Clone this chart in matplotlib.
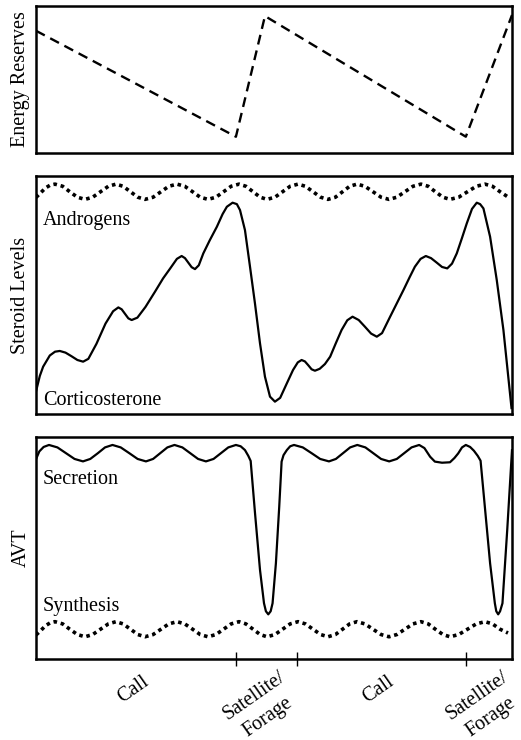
import numpy as np
import matplotlib
matplotlib.use('Agg')
import matplotlib.pyplot as plt

plt.rcParams['font.family'] = ['Liberation Serif', 'DejaVu Serif']
plt.rcParams['font.size'] = 14.5

# x runs 0..100 across the breeding cycle, y is 0..1 in every panel
# energy reserves (dashed saw-tooth)
energy_x = [0, 42.0, 48.1, 90.3, 100]
energy_y = [0.832, 0.111, 0.932, 0.111, 0.939]

# corticosterone (solid)
cort_x = [0, 0.8, 1.5, 2.9, 4.0, 5.0, 6.2, 7.45, 8.7, 9.9,
          11.0, 12.7, 14.6, 16.2, 17.3, 18.0, 18.7, 19.4, 20.1,
          21.3, 23.0, 25.0, 26.7, 28.2, 29.6, 30.6, 31.3, 32.0, 32.7, 33.4,
          34.2, 35.15, 36.5, 38.0, 39.2, 40.1, 41.3, 42.2, 42.86, 43.9, 44.96,
          46.0, 47.06, 48.1, 49.16, 50.2, 51.3, 52.7, 54.0, 55.0, 55.8,
          56.5, 57.2, 57.9, 58.6, 59.6, 60.7, 61.8, 63.0, 64.2, 65.4, 66.5,
          67.8, 69.1, 70.4, 71.6, 72.7, 74.4, 75.8, 77.2, 78.5, 79.6, 80.8, 81.9,
          83.0, 84.2, 85.3, 86.4, 87.4, 88.4, 89.5, 90.5, 91.6, 92.6,
          93.3, 94.0, 95.4, 96.8, 98.2, 99.9]
cort_y = [0.095, 0.16, 0.199, 0.246, 0.262, 0.265, 0.258, 0.243, 0.227, 0.220,
          0.232, 0.295, 0.380, 0.432, 0.448, 0.440, 0.421, 0.402, 0.395,
          0.405, 0.450, 0.514, 0.570, 0.612, 0.652, 0.664, 0.655, 0.636, 0.617, 0.609,
          0.625, 0.675, 0.730, 0.787, 0.840, 0.871, 0.888, 0.882, 0.857, 0.773, 0.619,
          0.465, 0.297, 0.157, 0.073, 0.052, 0.068, 0.129, 0.185, 0.217, 0.227,
          0.221, 0.205, 0.188, 0.182, 0.190, 0.210, 0.241, 0.298, 0.353, 0.394, 0.409,
          0.395, 0.367, 0.338, 0.325, 0.340, 0.409, 0.465, 0.521, 0.575, 0.619, 0.652, 0.664,
          0.655, 0.636, 0.618, 0.612, 0.632, 0.675, 0.740, 0.801, 0.862, 0.888,
          0.882, 0.864, 0.745, 0.563, 0.353, 0.025]

# androgens and AVT synthesis (dotted ripples share the same x positions)
wave_x = [0.0, 1.0, 2.0, 3.0, 3.99, 5.6, 7.1, 8.7, 10.29, 11.9, 13.55, 15.2,
          16.81, 18.3, 19.85, 21.4, 22.9, 24.6, 26.25, 27.9, 29.62, 31.25,
          32.9, 34.5, 36.13, 37.8, 39.4, 41.0, 42.65, 44.1, 45.6, 47.1, 48.53,
          50.2, 51.8, 53.4, 55.04, 56.6, 58.2, 59.8, 61.34, 62.9, 64.4, 65.9,
          67.44, 69.1, 70.8, 72.5, 74.16, 75.8, 77.5, 79.2, 80.88, 82.4, 83.9,
          85.5, 86.97, 88.8, 90.65, 92.5, 94.33, 95.9, 97.5, 99.16]
andro_y = [0.910, 0.930, 0.950, 0.962, 0.966, 0.957, 0.934, 0.911, 0.902, 0.911, 0.934, 0.957,
           0.966, 0.957, 0.934, 0.911, 0.902, 0.911, 0.934, 0.957, 0.966, 0.957,
           0.934, 0.911, 0.902, 0.911, 0.934, 0.957, 0.966, 0.957, 0.934, 0.911, 0.902,
           0.911, 0.934, 0.957, 0.966, 0.957, 0.934, 0.911, 0.902, 0.911, 0.934, 0.957,
           0.966, 0.957, 0.934, 0.911, 0.902, 0.911, 0.934, 0.957, 0.966, 0.957, 0.934,
           0.911, 0.902, 0.911, 0.934, 0.957, 0.966, 0.957, 0.934, 0.912]
synth_y = [0.108, 0.128, 0.150, 0.163, 0.168, 0.158, 0.134, 0.110, 0.100, 0.110, 0.134, 0.158,
           0.168, 0.158, 0.134, 0.110, 0.100, 0.110, 0.134, 0.158, 0.168, 0.158,
           0.134, 0.110, 0.100, 0.110, 0.134, 0.158, 0.168, 0.158, 0.134, 0.110, 0.100,
           0.110, 0.134, 0.158, 0.168, 0.158, 0.134, 0.110, 0.100, 0.110, 0.134, 0.158,
           0.168, 0.158, 0.134, 0.110, 0.100, 0.110, 0.134, 0.158, 0.168, 0.158, 0.134,
           0.110, 0.100, 0.110, 0.134, 0.158, 0.168, 0.158, 0.134, 0.117]

# AVT secretion (solid)
secr_x = [0, 0.7, 1.6, 2.73, 4.5, 6.3, 8.1, 9.87, 11.4, 13.0, 14.5, 16.07,
          17.8, 19.6, 21.35, 23.1, 24.6, 26.1, 27.6, 29.1, 30.75, 32.4, 34.05,
          35.7, 37.3, 38.85, 40.4, 42.0, 43.0, 43.9, 44.6, 45.1, 46.0, 47.06,
          47.9, 48.3, 48.8, 49.3, 49.7, 50.4, 51.1, 51.6, 52.0, 52.7, 53.4, 54.2,
          56.05, 57.9, 59.7, 61.55, 63.0, 64.5, 66.0, 67.5, 69.2, 70.85, 72.5,
          74.2, 75.8, 77.35, 78.9, 80.5, 81.6, 82.8, 83.8, 85.3, 86.97, 87.9,
          88.7, 89.5, 90.3, 91.2, 92.0, 92.8, 93.4, 95.4, 96.4, 96.7, 97.1,
          97.5, 98.0, 99.0, 100]
secr_y = [0.900, 0.935, 0.955, 0.964, 0.953, 0.927, 0.901, 0.890, 0.901, 0.927, 0.953, 0.964,
          0.953, 0.927, 0.901, 0.890, 0.901, 0.927, 0.953, 0.964, 0.953, 0.927, 0.901,
          0.890, 0.901, 0.927, 0.953, 0.964, 0.958, 0.941, 0.915, 0.892, 0.660, 0.401,
          0.251, 0.215, 0.201, 0.215, 0.251, 0.431, 0.686, 0.889, 0.918, 0.941, 0.958, 0.964,
          0.953, 0.927, 0.901, 0.890, 0.901, 0.927, 0.953, 0.964, 0.953, 0.927, 0.901,
          0.890, 0.901, 0.927, 0.953, 0.964, 0.950, 0.911, 0.889, 0.884, 0.886, 0.905,
          0.926, 0.953, 0.964, 0.955, 0.938, 0.915, 0.893, 0.431, 0.251, 0.215, 0.201,
          0.215, 0.251, 0.581, 0.940]

# behavioural phases along the bottom axis
phase_edges = [0, 42.0, 54.8, 90.3, 100]
phase_labels = ['Call', 'Satellite/\nForage', 'Call', 'Satellite/\nForage']

fig = plt.figure(figsize=(5.21, 7.40), dpi=100)
ax1 = fig.add_axes([0.0691, 0.7932, 0.9136, 0.1986])
ax2 = fig.add_axes([0.0691, 0.4405, 0.9136, 0.3216])
ax3 = fig.add_axes([0.0691, 0.1095, 0.9136, 0.3000])

lw_solid = 1.6
dots = dict(color='black', lw=2.6, linestyle=(0, (1, 1.05)), dash_capstyle='butt')

ax1.plot(energy_x, energy_y, color='black', lw=1.7, linestyle=(0, (4.2, 2.6)))
ax1.set_ylabel('Energy Reserves')

ax2.plot(wave_x, andro_y, **dots)
ax2.plot(cort_x, cort_y, color='black', lw=lw_solid)
ax2.text(1.4, 0.794, 'Androgens', ha='left', va='baseline')
ax2.text(1.4, 0.038, 'Corticosterone', ha='left', va='baseline')
ax2.set_ylabel('Steroid Levels')

ax3.plot(secr_x, secr_y, color='black', lw=lw_solid)
ax3.plot(wave_x, synth_y, **dots)
ax3.text(1.4, 0.788, 'Secretion', ha='left', va='baseline')
ax3.text(1.4, 0.215, 'Synthesis', ha='left', va='baseline')
ax3.set_ylabel('AVT')

for ax in (ax1, ax2, ax3):
    ax.set_xlim(0, 100)
    ax.set_ylim(0, 1)
    ax.set_yticks([])
    ax.set_xticks([])
    for sp in ax.spines.values():
        sp.set_linewidth(1.8)

# phase boundaries as ticks, phase names slanted under each segment
ax3.set_xticks(phase_edges[1:-1])
ax3.set_xticklabels([])
ax3.tick_params(axis='x', which='major', direction='inout', length=10, width=1.0)

mids = (np.array(phase_edges[:-1]) + np.array(phase_edges[1:])) / 2
for xm, lab in zip(mids, phase_labels):
    lines = lab.split('\n')
    if len(lines) == 1:
        offs = [(-14, -44)]
    else:
        offs = [(-38.4, -61), (-18.4, -77.5)]
    for line, (dx, dy) in zip(lines, offs):
        ax3.annotate(line, xy=(xm, 0), xycoords='data',
                     xytext=(dx, dy), textcoords='offset pixels',
                     rotation=35, rotation_mode='anchor',
                     ha='left', va='baseline', annotation_clip=False)

fig.savefig('out.png', dpi=100)
